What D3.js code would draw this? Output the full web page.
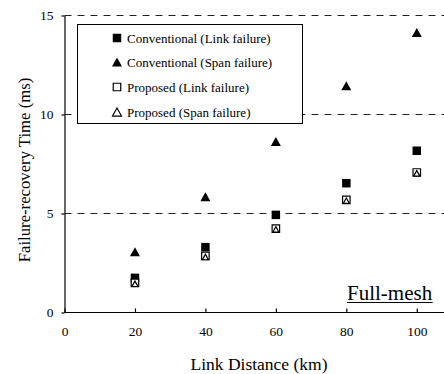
<!DOCTYPE html>
<html>
<head>
<meta charset="utf-8">
<script src="https://cdn.jsdelivr.net/npm/d3@7"></script>
<style>
  body { margin: 0; background: #fff; }
  svg { display: block; font-family: "Liberation Serif", "Times New Roman", serif; }
</style>
</head>
<body>
<svg width="444" height="374"></svg>
<script>
const distances = [20, 40, 60, 80, 100];
const convLink = [1.75, 3.3, 4.93, 6.53, 8.17];
const convSpan = [3.07, 5.84, 8.64, 11.45, 14.14];
const propLink = [1.5, 2.86, 4.24, 5.69, 7.07];
const propSpan = [1.45, 2.8, 4.2, 5.65, 7.03];
const xTicks = [0, 20, 40, 60, 80, 100];
const yTicks = [0, 5, 10, 15];
const gridValues = [5, 10, 15];

const svg = d3.select("svg");

const x = d3.scaleLinear().domain([0, 110]).range([64.5, 452]);
const y = d3.scaleLinear().domain([0, 15]).range([312.5, 15.5]);

// dashed gridlines
svg.append("g")
  .selectAll("line")
  .data(gridValues)
  .join("line")
    .attr("x1", x(0))
    .attr("x2", 444)
    .attr("y1", d => y(d))
    .attr("y2", d => y(d))
    .attr("stroke", "#222")
    .attr("stroke-dasharray", "7,6");

// x axis: ticks inside
const xAxis = svg.append("g")
  .attr("transform", `translate(0,${y(0)})`)
  .call(d3.axisBottom(x).tickValues(xTicks).tickSize(-4).tickPadding(14).tickSizeOuter(0));
xAxis.select(".domain").attr("d", `M${x(0)},0H444`);

// y axis: ticks outside
const yAxis = svg.append("g")
  .attr("transform", `translate(${x(0)},0)`)
  .call(d3.axisLeft(y).tickValues(yTicks).tickSize(3).tickPadding(8).tickSizeOuter(0));

svg.selectAll(".tick text")
  .attr("font-family", "Liberation Serif, serif")
  .attr("font-size", 13.5)
  .attr("fill", "#000");
svg.selectAll(".domain, .tick line").attr("stroke", "#000").attr("stroke-width", 1.2);

// axis titles
svg.append("text")
  .attr("x", 259)
  .attr("y", 369.5)
  .attr("text-anchor", "middle")
  .attr("font-size", 17.5)
  .text("Link Distance (km)");

svg.append("text")
  .attr("transform", `translate(30,170) rotate(-90)`)
  .attr("text-anchor", "middle")
  .attr("font-size", 16.7)
  .text("Failure-recovery Time (ms)");

// marker shapes
const square = d3.symbol().type(d3.symbolSquare);
function tri(size) {
  const h = size * 0.9, w = size;
  return `M0,${-h / 2}L${w / 2},${h / 2}L${-w / 2},${h / 2}Z`;
}

const series = [
  {name: "Conventional (Link failure)", values: convLink, kind: "sq", fill: "#000"},
  {name: "Conventional (Span failure)", values: convSpan, kind: "tri", fill: "#000"},
  {name: "Proposed (Link failure)", values: propLink, kind: "sq", fill: "#fff"},
  {name: "Proposed (Span failure)", values: propSpan, kind: "tri", fill: "#fff"}
];

function marker(sel, s, small) {
  if (s.kind === "sq") {
    sel.attr("d", s.fill === "#000" ? square.size(72)() : square.size(56)());
  } else {
    sel.attr("d", s.fill === "#000" ? tri(10) : tri(small ? 6 : 9));
  }
  sel.attr("fill", s.fill).attr("stroke", "#000").attr("stroke-width", s.fill === "#000" ? 0 : 1.2);
}

series.forEach(s => {
  svg.append("g")
    .selectAll("path")
    .data(s.values)
    .join("path")
      .attr("transform", (d, i) => `translate(${x(distances[i])},${y(d)})`)
      .call(sel => marker(sel, s, true));
});

// legend
const legend = svg.append("g");
legend.append("rect")
  .attr("x", 77.5).attr("y", 24.5)
  .attr("width", 225).attr("height", 99)
  .attr("fill", "#fff").attr("stroke", "#000");

const rowY = [38, 62, 87, 112];
series.forEach((s, i) => {
  legend.append("path")
    .attr("transform", `translate(${117},${rowY[i]})`)
    .call(sel => marker(sel, s, false));
  legend.append("text")
    .attr("x", 127)
    .attr("y", rowY[i] + 4.5)
    .attr("font-size", 13)
    .text(s.name);
});

// annotation
const note = svg.append("text")
  .attr("x", 347)
  .attr("y", 299.5)
  .attr("font-size", 21)
  .text("Full-mesh");
const bb = note.node().getBBox();
svg.append("line")
  .attr("x1", bb.x).attr("x2", bb.x + bb.width)
  .attr("y1", 302.5).attr("y2", 302.5)
  .attr("stroke", "#000").attr("stroke-width", 1.2);
</script>
</body>
</html>
